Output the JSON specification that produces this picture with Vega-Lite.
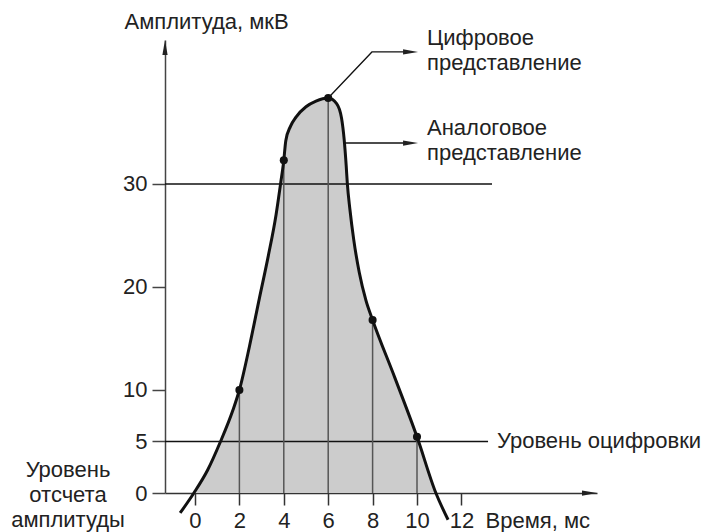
{
  "$schema": "https://vega.github.io/schema/vega-lite/v6.json",
  "width": 432,
  "height": 453,
  "autosize": "none",
  "padding": {"left": 165, "top": 40, "right": 113, "bottom": 39},
  "background": "white",
  "config": {
    "view": {"stroke": null},
    "font": "Liberation Sans",
    "text": {"font": "Liberation Sans", "fontSize": 22, "color": "#222222"}
  },
  "datasets": {
    "curve": [
      {"x": -0.67, "y": -1.94},
      {"x": -0.05, "y": 0},
      {"x": 0.57, "y": 2.23},
      {"x": 1.14, "y": 4.95},
      {"x": 1.71, "y": 8.06},
      {"x": 2.0, "y": 10.0},
      {"x": 2.45, "y": 14.2},
      {"x": 2.9, "y": 18.9},
      {"x": 3.3, "y": 23.0},
      {"x": 3.65, "y": 27.0},
      {"x": 3.86, "y": 30.1},
      {"x": 4.0, "y": 32.3},
      {"x": 4.09, "y": 34.2},
      {"x": 4.3, "y": 35.6},
      {"x": 4.55, "y": 36.5},
      {"x": 5.0, "y": 37.5},
      {"x": 5.45, "y": 38.05},
      {"x": 6.0, "y": 38.35},
      {"x": 6.38, "y": 37.8},
      {"x": 6.6, "y": 36.4},
      {"x": 6.72, "y": 34.3},
      {"x": 6.81, "y": 31.8},
      {"x": 6.86, "y": 30.1},
      {"x": 6.98, "y": 27.5},
      {"x": 7.15, "y": 24.6},
      {"x": 7.4, "y": 21.4},
      {"x": 7.7, "y": 18.7},
      {"x": 8.0, "y": 16.8},
      {"x": 9.0, "y": 11.2},
      {"x": 10.0, "y": 5.45},
      {"x": 10.85, "y": 0},
      {"x": 11.4, "y": -2.6}
    ],
    "samples": [
      {"x": 2, "y": 10.0},
      {"x": 4, "y": 32.3},
      {"x": 6, "y": 38.35},
      {"x": 8, "y": 16.8},
      {"x": 10, "y": 5.45}
    ],
    "levels": [
      {"x": -1.351, "xEnd": 13.38, "y": 30},
      {"x": -1.351, "xEnd": 13.2, "y": 5}
    ],
    "leaders": [
      {"id": "digital", "order": 0, "x": 6.0, "y": 38.35},
      {"id": "digital", "order": 1, "x": 7.97, "y": 42.82},
      {"id": "digital", "order": 2, "x": 9.71, "y": 42.82},
      {"id": "analog", "order": 0, "x": 6.77, "y": 33.98},
      {"id": "analog", "order": 1, "x": 9.71, "y": 33.98}
    ],
    "heads": [
      {"x": 9.71, "y": 42.82, "dir": "right"},
      {"x": 9.71, "y": 33.98, "dir": "right"},
      {"x": 17.77, "y": 0, "dir": "right"},
      {"x": -1.351, "y": 43.25, "dir": "up"}
    ],
    "notes": [
      {"x": 10.45, "y": 43.5, "label": "Цифровое"},
      {"x": 10.45, "y": 41.07, "label": "представление"},
      {"x": 10.45, "y": 34.76, "label": "Аналоговое"},
      {"x": 10.45, "y": 32.33, "label": "представление"},
      {"x": 13.6, "y": 4.37, "label": "Уровень оцифровки"}
    ],
    "sideNote": [
      {"x": -5.72, "y": 1.55, "label": "Уровень\nотсчета\nамплитуды"}
    ]
  },
  "encoding": {
    "x": {
      "field": "x",
      "type": "quantitative",
      "scale": {"domain": [-1.351, 18.108], "nice": false, "zero": false},
      "axis": {
        "values": [0, 2, 4, 6, 8, 10, 12],
        "format": "d",
        "grid": false,
        "domainColor": "#333333",
        "domainWidth": 1.5,
        "tickColor": "#333333",
        "tickWidth": 1.5,
        "tickSize": 12,
        "labelFont": "Liberation Sans",
        "labelFontSize": 22,
        "labelColor": "#222222",
        "labelBaseline": "alphabetic",
        "labelPadding": 22,
        "labelFlush": false,
        "labelOverlap": false,
        "title": "Время, мс",
        "titleFont": "Liberation Sans",
        "titleFontSize": 22,
        "titleFontWeight": "normal",
        "titleColor": "#222222",
        "titleX": 320,
        "titleY": 34,
        "titleAlign": "left",
        "titleBaseline": "alphabetic"
      }
    },
    "y": {
      "field": "y",
      "type": "quantitative",
      "scale": {"domain": [0, 43.98], "nice": false, "zero": false},
      "axis": {
        "values": [0, 5, 10, 20, 30],
        "format": "d",
        "grid": false,
        "domainColor": "#444444",
        "domainWidth": 1.5,
        "tickColor": "#444444",
        "tickWidth": 1.5,
        "tickSize": 13,
        "labelFont": "Liberation Sans",
        "labelFontSize": 22,
        "labelColor": "#222222",
        "labelPadding": 5,
        "labelFlush": false,
        "labelOverlap": false,
        "title": "Амплитуда, мкВ",
        "titleFont": "Liberation Sans",
        "titleFontSize": 22,
        "titleFontWeight": "normal",
        "titleColor": "#222222",
        "titleAngle": 0,
        "titleX": -41,
        "titleY": -12,
        "titleAlign": "left",
        "titleBaseline": "alphabetic"
      }
    }
  },
  "layer": [
    {
      "data": {"name": "curve"},
      "mark": {"type": "area", "interpolate": "monotone", "color": "#cccccc", "clip": true},
      "encoding": {"y2": {"datum": 0}}
    },
    {
      "data": {"name": "levels"},
      "mark": {"type": "rule", "color": "#111111", "strokeWidth": 1.5},
      "encoding": {"x2": {"field": "xEnd"}}
    },
    {
      "data": {"name": "samples"},
      "mark": {"type": "rule", "color": "#555555", "strokeWidth": 1.5},
      "encoding": {"y2": {"datum": 0}}
    },
    {
      "data": {"name": "curve"},
      "mark": {"type": "line", "interpolate": "monotone", "color": "#111111", "strokeWidth": 3, "clip": false},
      "encoding": {}
    },
    {
      "data": {"name": "samples"},
      "mark": {"type": "point", "filled": true, "size": 65, "color": "#111111", "opacity": 1},
      "encoding": {}
    },
    {
      "data": {"name": "leaders"},
      "mark": {"type": "line", "color": "#111111", "strokeWidth": 1.3},
      "encoding": {
        "detail": {"field": "id"},
        "order": {"field": "order", "type": "quantitative"}
      }
    },
    {
      "data": {"name": "heads"},
      "mark": {"type": "point", "filled": true, "size": 225, "color": "#222222", "opacity": 1, "strokeWidth": 0, "clip": false},
      "encoding": {
        "shape": {
          "field": "dir",
          "type": "nominal",
          "scale": {"domain": ["right", "up"], "range": ["M-1,-0.35L1,0L-1,0.35Z", "M-0.35,1L0,-1L0.35,1Z"]},
          "legend": null
        }
      }
    },
    {
      "data": {"name": "notes"},
      "mark": {"type": "text", "align": "left", "baseline": "alphabetic", "fontSize": 22, "color": "#222222"},
      "encoding": {"text": {"field": "label"}}
    },
    {
      "data": {"name": "sideNote"},
      "mark": {"type": "text", "align": "center", "baseline": "alphabetic", "fontSize": 22, "color": "#222222", "lineBreak": "\n", "lineHeight": 25},
      "encoding": {"text": {"field": "label"}}
    }
  ]
}
